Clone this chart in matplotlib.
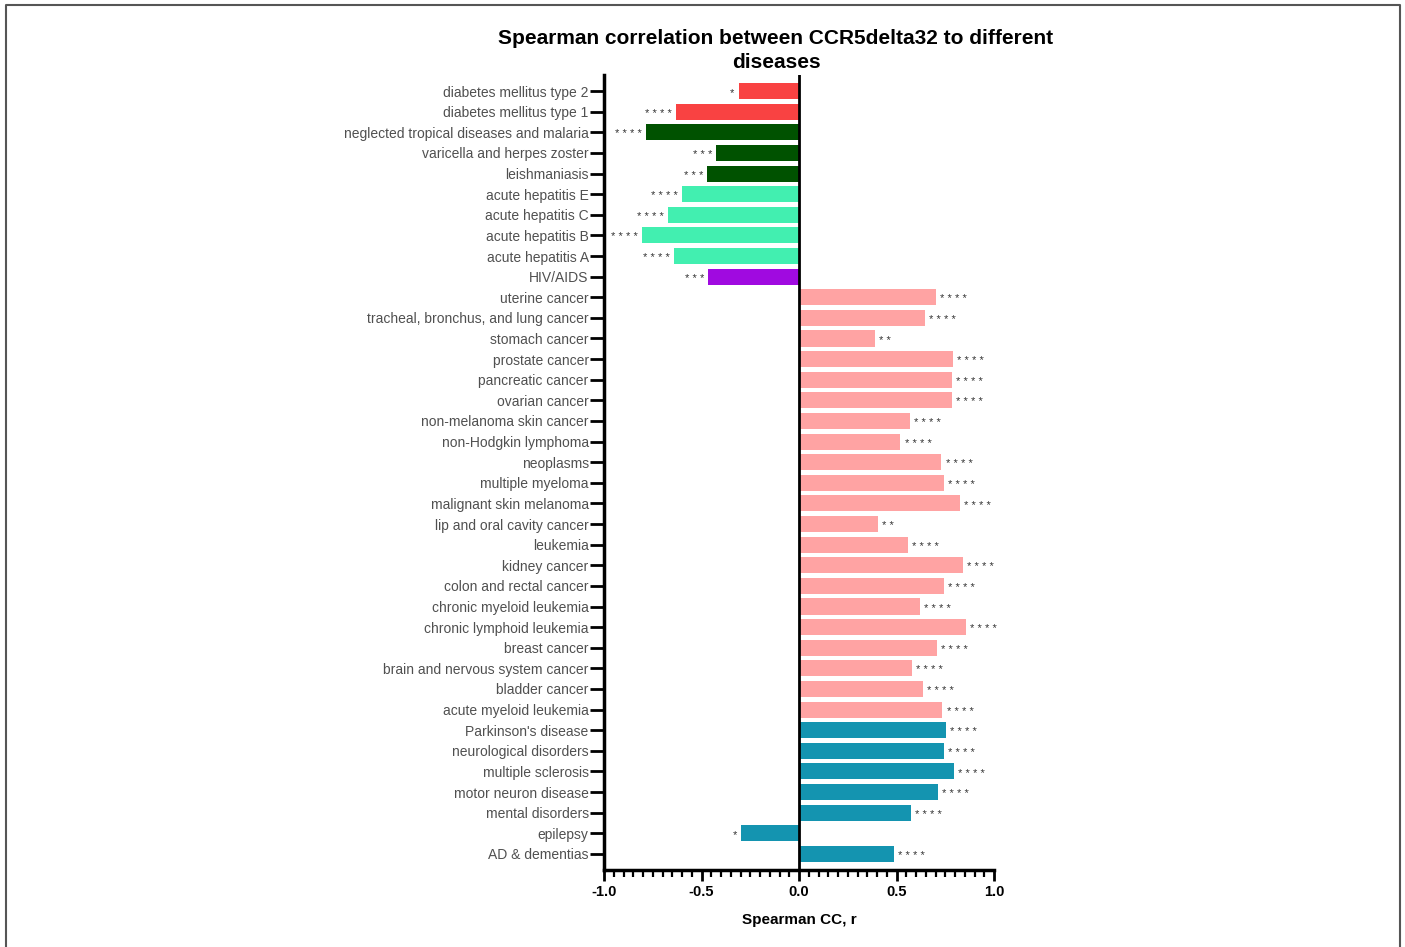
import matplotlib
matplotlib.use("Agg")
import matplotlib.pyplot as plt
from matplotlib.ticker import MultipleLocator

# categories top -> bottom
diseases = [
    "diabetes mellitus type 2", "diabetes mellitus type 1",
    "neglected tropical diseases and malaria", "varicella and herpes zoster",
    "leishmaniasis", "acute hepatitis E", "acute hepatitis C",
    "acute hepatitis B", "acute hepatitis A", "HIV/AIDS",
    "uterine cancer", "tracheal, bronchus, and lung cancer", "stomach cancer",
    "prostate cancer", "pancreatic cancer", "ovarian cancer",
    "non-melanoma skin cancer", "non-Hodgkin lymphoma", "neoplasms",
    "multiple myeloma", "malignant skin melanoma", "lip and oral cavity cancer",
    "leukemia", "kidney cancer", "colon and rectal cancer",
    "chronic myeloid leukemia", "chronic lymphoid leukemia", "breast cancer",
    "brain and nervous system cancer", "bladder cancer", "acute myeloid leukemia",
    "Parkinson's disease", "neurological disorders", "multiple sclerosis",
    "motor neuron disease", "mental disorders", "epilepsy", "AD & dementias",
]
r_values = [
    -0.31, -0.63, -0.785, -0.425, -0.47, -0.60, -0.67, -0.805, -0.64, -0.465,
    0.70, 0.645, 0.39, 0.788, 0.785, 0.783, 0.567, 0.52, 0.73,
    0.745, 0.827, 0.405, 0.56, 0.841, 0.745, 0.622, 0.855, 0.709,
    0.578, 0.634, 0.735,
    0.755, 0.745, 0.796, 0.713, 0.573, -0.295, 0.487,
]
stars = [
    "*", "****", "****", "***", "***", "****", "****", "****", "****", "***",
    "****", "****", "**", "****", "****", "****", "****", "****", "****",
    "****", "****", "**", "****", "****", "****", "****", "****", "****",
    "****", "****", "****",
    "****", "****", "****", "****", "****", "*", "****",
]
groups = ["diabetes"] * 2 + ["tropical"] * 3 + ["hepatitis"] * 4 + ["hiv"] \
    + ["cancer"] * 21 + ["neuro"] * 7
group_colors = {
    "diabetes": "#F94242", "tropical": "#005200", "hepatitis": "#42EFB0",
    "hiv": "#A00AE0", "cancer": "#FFA3A3", "neuro": "#1494B0",
}
xticks = [-1.0, -0.5, 0.0, 0.5, 1.0]

fig = plt.figure(figsize=(14.05, 9.47), dpi=100)
ax = fig.add_axes([0.4299, 0.0813, 0.2776, 0.8395])

n = len(diseases)
ypos = list(range(n))
colors = [group_colors[g] for g in groups]
ax.barh(ypos, r_values, height=0.78, color=colors, zorder=2)
ax.axvline(0, color="black", lw=2, zorder=3)

# significance stars next to each bar
for y, v, s in zip(ypos, r_values, stars):
    off = 3 if v > 0 else -3
    ax.annotate(" ".join(s), (v, y), xytext=(off, -1.5), textcoords="offset points",
                ha="left" if v > 0 else "right", va="center",
                fontsize=8, color="#333333", family="Liberation Sans")

ax.set_ylim(n - 1 + 0.78, -0.78)
ax.set_xlim(-1.0, 1.0)
ax.set_yticks(ypos)
ax.set_yticklabels(diseases, fontsize=10, color="#505050",
                   family=["Liberation Sans", "DejaVu Sans"])
ax.set_xticks(xticks)
ax.xaxis.set_minor_locator(MultipleLocator(0.05))
ax.set_xticklabels([f"{t:.1f}" for t in xticks], fontsize=10.5, fontweight="bold",
                   family=["Liberation Sans", "DejaVu Sans"])
ax.tick_params(axis="x", which="major", length=8, width=2, pad=3)
ax.tick_params(axis="x", which="minor", length=5, width=1.6)
ax.tick_params(axis="y", length=10, width=2, pad=1)

for side in ["top", "right"]:
    ax.spines[side].set_visible(False)
for side in ["left", "bottom"]:
    ax.spines[side].set_linewidth(2.5)

ax.set_xlabel("Spearman CC, r", fontsize=11, fontweight="bold", labelpad=10,
              family=["Liberation Sans", "DejaVu Sans"])
fig.text(0.5523, 0.9467, "Spearman correlation between CCR5delta32 to different\ndiseases",
         ha="center", va="center", fontsize=15, fontweight="bold",
         linespacing=1.3, family=["Liberation Sans", "DejaVu Sans"])

# thin frame around the image (left, top, right)
fig.add_artist(plt.Line2D([0.0046, 0.0046, 0.9964, 0.9964], [0.0, 0.9947, 0.9947, 0.0],
                          transform=fig.transFigure, color="#555555", lw=1.5))

fig.savefig("out.png", dpi=100)
